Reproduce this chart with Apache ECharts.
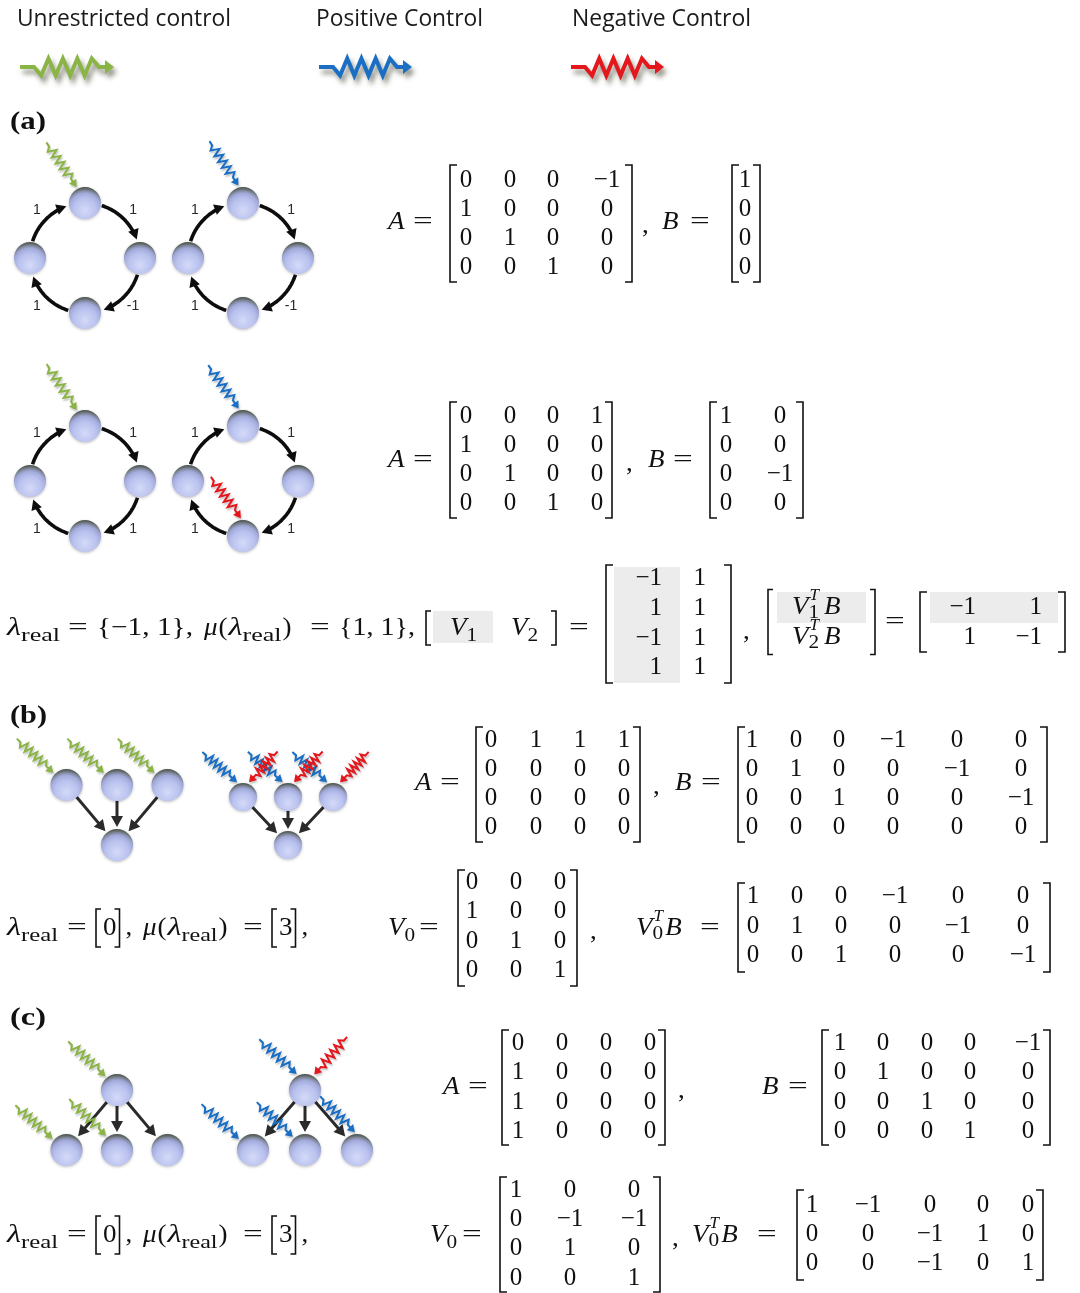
<!DOCTYPE html>
<html>
<head>
<meta charset="utf-8">
<script src="https://cdn.jsdelivr.net/npm/echarts@6/dist/echarts.min.js"></script>
<style>
  html, body { margin: 0; padding: 0; background: #fff; }
  #chart { width: 1080px; height: 1293px; }
</style>
</head>
<body>
<div id="chart"></div>
<script>
// ---------------- data ----------------
const legendLabels = ['Unrestricted control', 'Positive Control', 'Negative Control'];
const inputKinds = ['u', 'p', 'n'];
const inputColors = { u: '#8ab446', p: '#1a6fc4', n: '#e3171c' };

// (a) cycle networks: edge weights clockwise, starting with top -> right
const ringWeightsA1 = [1, -1, 1, 1];
const ringWeightsA2 = [1, 1, 1, 1];
// inputs: [node, attach angle, heading, length, kind]
const inputsA1u = [[0, -118, 56, 54, 'u']];
const inputsA1p = [[0, -105, 57, 53, 'p']];
const inputsA2u = [[0, -118, 57, 55, 'u']];
const inputsA2p = [[0, -104, 55, 53, 'p'], [2, -97, 54, 51, 'n']];
// (b) fan-in and (c) fan-out networks
const fanInLayout = [[-1, 0], [0, 0], [1, 0], [0, 1]];
const fanInEdges = [[0, 3], [1, 3], [2, 3]];
const fanOutLayout = [[0, 0], [-1, 1], [0, 1], [1, 1]];
const fanOutEdges = [[0, 1], [0, 2], [0, 3]];
const inputsBu = [[0, -137, 43, 50, 'u'], [1, -137, 43, 50, 'u'], [2, -137, 43, 50, 'u']];
const inputsBp = [[0, -112, 41, 46, 'p'], [1, -110, 41, 46, 'p'], [2, -112, 41, 46, 'p'],
                  [0, -68, 133, 42, 'n'], [1, -68, 133, 42, 'n'], [2, -64, 133, 42, 'n']];
const inputsCu = [[0, -130, 43, 51, 'u'], [1, -141, 42, 50, 'u'], [2, -128, 45, 52, 'u']];
const inputsCp = [[0, -118, 43, 51, 'p'], [0, -59, 131, 50, 'n'], [1, -142, 43, 51, 'p'],
                  [2, -133, 44, 50, 'p'], [3, -97, 46, 50, 'p']];

// matrices
const A_a1 = [[0, 0, 0, -1], [1, 0, 0, 0], [0, 1, 0, 0], [0, 0, 1, 0]];
const B_a1 = [[1], [0], [0], [0]];
const A_a2 = [[0, 0, 0, 1], [1, 0, 0, 0], [0, 1, 0, 0], [0, 0, 1, 0]];
const B_a2 = [[1, 0], [0, 0], [0, -1], [0, 0]];
const V_a = [[-1, 1], [1, 1], [-1, 1], [1, 1]];
const VB_a = [[-1, 1], [1, -1]];
const A_b = [[0, 1, 1, 1], [0, 0, 0, 0], [0, 0, 0, 0], [0, 0, 0, 0]];
const B_b = [[1, 0, 0, -1, 0, 0], [0, 1, 0, 0, -1, 0], [0, 0, 1, 0, 0, -1], [0, 0, 0, 0, 0, 0]];
const V0_b = [[0, 0, 0], [1, 0, 0], [0, 1, 0], [0, 0, 1]];
const V0B_b = [[1, 0, 0, -1, 0, 0], [0, 1, 0, 0, -1, 0], [0, 0, 1, 0, 0, -1]];
const A_c = [[0, 0, 0, 0], [1, 0, 0, 0], [1, 0, 0, 0], [1, 0, 0, 0]];
const B_c = [[1, 0, 0, 0, -1], [0, 1, 0, 0, 0], [0, 0, 1, 0, 0], [0, 0, 0, 1, 0]];
const V0_c = [[1, 0, 0], [0, -1, -1], [0, 1, 0], [0, 0, 1]];
const V0B_c = [[1, -1, 0, 0, 0], [0, 0, -1, 1, 0], [0, 0, -1, 0, 1]];

// eigenvalues and multiplicities
const lambdaA = [-1, 1], muA = [1, 1];
const lambdaB = [0], muB = [3];
const lambdaC = [0], muC = [3];

// ---------------- layout ----------------
const W = 1080, H = 1293, DEG = Math.PI / 180;
const SERIF = '"Liberation Serif", "DejaVu Serif", serif';
const graphs = [
  { type: 'ring', c: [85, 258], R: 55, r: 16, weights: ringWeightsA1, inputs: inputsA1u },
  { type: 'ring', c: [243, 258], R: 55, r: 16, weights: ringWeightsA1, inputs: inputsA1p },
  { type: 'ring', c: [85, 481], R: 55, r: 16, weights: ringWeightsA2, inputs: inputsA2u },
  { type: 'ring', c: [243, 481], R: 55, r: 16, weights: ringWeightsA2, inputs: inputsA2p },
  { type: 'fan', c: [117, 785], dx: 50.5, dy: 60, r: 16, layout: fanInLayout, edges: fanInEdges, inputs: inputsBu },
  { type: 'fan', c: [288, 797], dx: 45, dy: 48, r: 14, layout: fanInLayout, edges: fanInEdges, inputs: inputsBp },
  { type: 'fan', c: [117, 1090], dx: 50.5, dy: 60, r: 16, layout: fanOutLayout, edges: fanOutEdges, inputs: inputsCu },
  { type: 'fan', c: [305, 1090], dx: 52, dy: 60, r: 16, layout: fanOutLayout, edges: fanOutEdges, inputs: inputsCp }
];
const ringNodeAngles = [-90, 0, 90, 180];

const matrices = [
  { m: A_a1, l: 450, r: 632, t: 165, b: 282, cols: [466, 510, 553, 607], rows: [180, 209, 238, 267] },
  { m: B_a1, l: 732, r: 760, t: 165, b: 282, cols: [745], rows: [180, 209, 238, 267] },
  { m: A_a2, l: 450, r: 612, t: 402, b: 518, cols: [466, 510, 553, 597], rows: [416, 445, 474, 503] },
  { m: B_a2, l: 710, r: 803, t: 402, b: 518, cols: [726, 780], rows: [416, 445, 474, 503] },
  { m: V_a, l: 606, r: 731, t: 565, b: 683, cols: [662, 706], rows: [578, 608, 638, 667], align: 'right',
    shade: [[614, 567, 680, 683]] },
  { m: VB_a, l: 920, r: 1065, t: 592, b: 652, cols: [976, 1042], rows: [607, 637], align: 'right',
    shade: [[930, 592, 1058, 623]] },
  { m: A_b, l: 476, r: 640, t: 727, b: 842, cols: [491, 536, 580, 624], rows: [740, 769, 798, 827] },
  { m: B_b, l: 738, r: 1047, t: 727, b: 842, cols: [752, 796, 839, 893, 957, 1021], rows: [740, 769, 798, 827] },
  { m: V0_b, l: 458, r: 577, t: 870, b: 986, cols: [472, 516, 560], rows: [882, 911, 941, 970] },
  { m: V0B_b, l: 738, r: 1050, t: 883, b: 972, cols: [753, 797, 841, 895, 958, 1023], rows: [896, 926, 955] },
  { m: A_c, l: 502, r: 665, t: 1030, b: 1145, cols: [518, 562, 606, 650], rows: [1043, 1072, 1102, 1131] },
  { m: B_c, l: 822, r: 1050, t: 1030, b: 1145, cols: [840, 883, 927, 970, 1028], rows: [1043, 1072, 1102, 1131] },
  { m: V0_c, l: 500, r: 660, t: 1177, b: 1292, cols: [516, 570, 634], rows: [1190, 1219, 1248, 1278] },
  { m: V0B_c, l: 797, r: 1043, t: 1190, b: 1280, cols: [812, 868, 930, 983, 1028], rows: [1205, 1234, 1263] }
];

const fmt = v => (v < 0 ? '\u2212' + (-v) : String(v));
const setText = arr => '{' + arr.map(fmt).join(', ') + '}';

const STY = {
  rm:   { font: '25px ' + SERIF, sx: 1.08 },
  it:   { font: 'italic 25px ' + SERIF, sx: 1.08 },
  eq:   { font: '25px ' + SERIF, sx: 1.4 },
  sub:  { font: '19px ' + SERIF, dy: 8, sx: 1.12 },
  sup:  { font: 'italic 17px ' + SERIF, dy: -11 },
  lbl:  { font: 'bold 26px ' + SERIF },
  leg:  { font: '23px "Open Sans", "Noto Sans", sans-serif', fill: '#1a1a1a' },
  edge: { font: '14px "Liberation Sans", sans-serif', fill: '#2a2a2a' }
};

// lambda_real = [..], mu(lambda_real) = [..], tokens shared by (b) and (c)
function eigenPrefix(lam, mu) {
  return [
    { t: '\u03bb', s: 'it', x: 7, w: 14 }, { t: 'real', s: 'sub', x: 21, w: 37 }, { t: '=', s: 'eq', x: 67 },
    { br: 'l', x: 96, h: 38 }, { t: lam.map(fmt).join(', '), s: 'rm', dx: 1 }, { br: 'r', h: 38 },
    { t: ',', s: 'rm', dx: 4 },
    { t: '\u03bc', s: 'it', x: 143 }, { t: '(', s: 'rm', dx: 1 }, { t: '\u03bb', s: 'it', dx: 1, w: 14 },
    { t: 'real', s: 'sub', w: 36 }, { t: ')', s: 'rm', dx: 1 }, { t: '=', s: 'eq', x: 243 },
    { br: 'l', x: 272, h: 38 }, { t: mu.map(fmt).join(', '), s: 'rm', dx: 1 }, { br: 'r', h: 38 },
    { t: ',', s: 'rm', dx: 4 }
  ];
}

const equations = [
  { y: 19, toks: [
    { t: legendLabels[0], s: 'leg', x: 17, w: 214 },
    { t: legendLabels[1], s: 'leg', x: 316, w: 167 },
    { t: legendLabels[2], s: 'leg', x: 572, w: 179 }] },
  { y: 122, toks: [{ t: '(a)', s: 'lbl', x: 10, w: 36 }] },
  { y: 716, toks: [{ t: '(b)', s: 'lbl', x: 10, w: 37 }] },
  { y: 1018, toks: [{ t: '(c)', s: 'lbl', x: 10, w: 36 }] },
  { y: 222, toks: [{ t: 'A', s: 'it', x: 388 }, { t: '=', s: 'eq', x: 413 },
    { t: ',', s: 'rm', x: 642, y: 226 }, { t: 'B', s: 'it', x: 662 }, { t: '=', s: 'eq', x: 690 }] },
  { y: 460, toks: [{ t: 'A', s: 'it', x: 388 }, { t: '=', s: 'eq', x: 413 },
    { t: ',', s: 'rm', x: 626, y: 464 }, { t: 'B', s: 'it', x: 648 }, { t: '=', s: 'eq', x: 673 }] },
  { y: 628, toks: [
    { t: '\u03bb', s: 'it', x: 7, w: 14 }, { t: 'real', s: 'sub', x: 21, w: 39 }, { t: '=', s: 'eq', x: 68 },
    { t: setText(lambdaA) + ',', s: 'rm', x: 97, w: 96 },
    { t: '\u03bc', s: 'it', x: 204 }, { t: '(', s: 'rm', dx: 1 }, { t: '\u03bb', s: 'it', dx: 1, w: 14 },
    { t: 'real', s: 'sub', w: 39 }, { t: ')', s: 'rm', dx: 1 },
    { t: '=', s: 'eq', x: 310 }, { t: setText(muA) + ',', s: 'rm', x: 339, w: 76 },
    { rect: [433, 611, 493, 643] },
    { br: 'l', x: 426, h: 34 }, { t: 'V', s: 'it', x: 450 }, { t: '1', s: 'sub' },
    { t: 'V', s: 'it', x: 511 }, { t: '2', s: 'sub' }, { br: 'r', x: 556, h: 34 },
    { t: '=', s: 'eq', x: 569 },
    { t: ',', s: 'rm', x: 743, y: 632 },
    { rect: [777, 592, 866, 623] },
    { br: 'l', x: 768, h: 65, y: 622 },
    { t: 'V', s: 'it', x: 792, y: 607 }, { t: 'T', s: 'sup', y: 607, dx: 1, keep: true },
    { t: '1', s: 'sub', y: 605 }, { t: 'B', s: 'it', x: 824, y: 607 },
    { t: 'V', s: 'it', x: 792, y: 637 }, { t: 'T', s: 'sup', y: 637, dx: 1, keep: true },
    { t: '2', s: 'sub', y: 635 }, { t: 'B', s: 'it', x: 824, y: 637 },
    { br: 'r', x: 875, h: 65, y: 622 },
    { t: '=', s: 'eq', x: 885, y: 622 }] },
  { y: 783, toks: [{ t: 'A', s: 'it', x: 415 }, { t: '=', s: 'eq', x: 440 },
    { t: ',', s: 'rm', x: 653, y: 787 }, { t: 'B', s: 'it', x: 675 }, { t: '=', s: 'eq', x: 701 }] },
  { y: 928, toks: eigenPrefix(lambdaB, muB).concat([
    { t: 'V', s: 'it', x: 388 }, { t: '0', s: 'sub' }, { t: '=', s: 'eq', x: 419 },
    { t: ',', s: 'rm', x: 590, y: 932 },
    { t: 'V', s: 'it', x: 636 }, { t: 'T', s: 'sup', dx: 1, keep: true }, { t: '0', s: 'sub', dy: -2 },
    { t: 'B', s: 'it', dx: 2 }, { t: '=', s: 'eq', x: 700 }]) },
  { y: 1087, toks: [{ t: 'A', s: 'it', x: 443 }, { t: '=', s: 'eq', x: 468 },
    { t: ',', s: 'rm', x: 678, y: 1091 }, { t: 'B', s: 'it', x: 762 }, { t: '=', s: 'eq', x: 788 }] },
  { y: 1235, toks: eigenPrefix(lambdaC, muC).concat([
    { t: 'V', s: 'it', x: 430 }, { t: '0', s: 'sub' }, { t: '=', s: 'eq', x: 462 },
    { t: ',', s: 'rm', x: 672, y: 1239 },
    { t: 'V', s: 'it', x: 692 }, { t: 'T', s: 'sup', dx: 1, keep: true }, { t: '0', s: 'sub', dy: -2 },
    { t: 'B', s: 'it', dx: 2 }, { t: '=', s: 'eq', x: 757 }]) }
];

// ---------------- helpers ----------------
const measureCtx = document.createElement('canvas').getContext('2d');
function textWidth(str, font) { measureCtx.font = font; return measureCtx.measureText(str).width; }

const graphNodes = [], graphArcs = [], graphLines = [], graphInputs = [], edgeLabels = [];
graphs.forEach(g => {
  let pos;
  if (g.type === 'ring') {
    pos = ringNodeAngles.map(a => [g.c[0] + g.R * Math.cos(a * DEG), g.c[1] + g.R * Math.sin(a * DEG)]);
    g.weights.forEach((w, k) => {
      const a0 = ringNodeAngles[k], a1 = a0 + 90;
      graphArcs.push({ c: g.c, R: g.R, a0: a0 + (g.r + 1) / g.R / DEG, a1: a1 - (g.r + 3) / g.R / DEG });
      const am = (a0 + a1) / 2 * DEG;
      edgeLabels.push({ x: g.c[0] + (g.R + 13) * Math.cos(am), y: g.c[1] + (g.R + 13) * Math.sin(am),
                        t: w < 0 ? '-' + (-w) : String(w) });
    });
  } else {
    pos = g.layout.map(([i, j]) => [g.c[0] + i * g.dx, g.c[1] + j * g.dy]);
    g.edges.forEach(([a, b]) => graphLines.push({ p0: pos[a], p1: pos[b], r: g.r }));
  }
  pos.forEach(p => graphNodes.push({ x: p[0], y: p[1], r: g.r }));
  g.inputs.forEach(([ni, tipA, heading, len, kind]) => {
    const n = pos[ni];
    const tip = [n[0] + (g.r + 2) * Math.cos(tipA * DEG), n[1] + (g.r + 2) * Math.sin(tipA * DEG)];
    const tail = [tip[0] - len * Math.cos(heading * DEG), tip[1] - len * Math.sin(heading * DEG)];
    graphInputs.push({ tail, tip, kind, amp: 4.2, waves: 5, lead: 5, head: 7, hw: 4.5, lw: 2 });
  });
});
// legend swatches
const legendSwatchX = [[20, 114], [319, 412], [571, 664]];
inputKinds.forEach((k, i) => {
  graphInputs.push({ tail: [legendSwatchX[i][0], 67], tip: [legendSwatchX[i][1], 67], kind: k,
                     amp: 8.5, waves: 4, lead: 14, head: 9, hw: 7, lw: 4, legend: true });
});

function wavy(o) {
  const dx = o.tip[0] - o.tail[0], dy = o.tip[1] - o.tail[1], L = Math.hypot(dx, dy);
  const ux = dx / L, uy = dy / L, nx = -uy, ny = ux;
  const at = (s, off) => [o.tail[0] + ux * s + nx * off, o.tail[1] + uy * s + ny * off];
  const zEnd = L - o.head - (o.legend ? 6 : 3);
  const n = o.waves * 2, step = (zEnd - o.lead) / (n + 1);
  const pts = [at(0, 0), at(o.lead, 0)];
  for (let i = 1; i <= n; i++) pts.push(at(o.lead + step * i, (i % 2 ? 1 : -1) * o.amp));
  pts.push(at(zEnd, 0), at(L - o.head + 1, 0));
  const head = [at(L, 0), at(L - o.head, o.hw), at(L - o.head, -o.hw)];
  return { pts, head };
}

function arrowParts(p0, p1, r0, r1, head, hw) {
  const dx = p1[0] - p0[0], dy = p1[1] - p0[1], L = Math.hypot(dx, dy);
  const ux = dx / L, uy = dy / L;
  const s = [p0[0] + ux * r0, p0[1] + uy * r0];
  const tip = [p1[0] - ux * r1, p1[1] - uy * r1];
  const base = [tip[0] - ux * head, tip[1] - uy * head];
  return { line: [s, [base[0] + ux * 2, base[1] + uy * 2]],
           head: [tip, [base[0] - uy * hw, base[1] + ux * hw], [base[0] + uy * hw, base[1] - ux * hw]] };
}

const idx = arr => arr.map((_, i) => [0, 0, i]);
const C = (api, p) => api.coord(p);

function customSeries(name, items, render, z) {
  return { type: 'custom', name, coordinateSystem: 'cartesian2d', clip: false, silent: true, z: z || 2,
           data: idx(items), renderItem: (params, api) => render(items[params.dataIndex], api) };
}

// ---------------- renderers ----------------
function renderArc(a, api) {
  const hl = 10, hw = 5.5;
  const lineEnd = a.a1 - hl * 0.8 / a.R / DEG;
  const pts = [];
  const steps = 30;
  for (let i = 0; i <= steps; i++) {
    const t = (a.a0 + (lineEnd - a.a0) * i / steps) * DEG;
    pts.push([a.c[0] + a.R * Math.cos(t), a.c[1] + a.R * Math.sin(t)]);
  }
  // arrowhead along the clockwise tangent
  const tEnd = a.a1 * DEG;
  const tip = [a.c[0] + a.R * Math.cos(tEnd), a.c[1] + a.R * Math.sin(tEnd)];
  const tx = -Math.sin(tEnd), ty = Math.cos(tEnd);
  const base = [tip[0] - tx * hl, tip[1] - ty * hl];
  return { type: 'group', children: [
    { type: 'polyline', shape: { points: pts.map(p => C(api, p)) },
      style: { stroke: '#0d0d0d', lineWidth: 3.6, fill: null, lineCap: 'butt' } },
    { type: 'polygon', shape: { points: [tip, [base[0] - ty * hw, base[1] + tx * hw], [base[0] + ty * hw, base[1] - tx * hw]].map(p => C(api, p)) },
      style: { fill: '#0d0d0d' } }
  ] };
}

function renderLine(e, api) {
  const a = arrowParts(e.p0, e.p1, e.r - 1, e.r + 2, 11, 6);
  return { type: 'group', children: [
    { type: 'polyline', shape: { points: a.line.map(p => C(api, p)) },
      style: { stroke: '#2a2a2a', lineWidth: 3, fill: null } },
    { type: 'polygon', shape: { points: a.head.map(p => C(api, p)) }, style: { fill: '#2a2a2a' } }
  ] };
}

function renderNode(n, api) {
  const p = C(api, [n.x, n.y]);
  const r = api.size([n.r, 0])[0];
  return { type: 'circle', shape: { cx: p[0], cy: p[1], r },
    style: { fill: new echarts.graphic.RadialGradient(0.5, 0.72, 0.72, [
      { offset: 0, color: '#d4daf8' }, { offset: 0.5, color: '#b9c1ee' },
      { offset: 0.72, color: '#a3abdb' }, { offset: 0.83, color: '#868da7' },
      { offset: 0.93, color: '#5e6764' }, { offset: 1, color: '#4a5350' }]),
      shadowBlur: 3, shadowColor: 'rgba(0,0,0,0.25)', shadowOffsetY: 1 } };
}

function renderInput(w, api) {
  const g = wavy(w);
  const col = inputColors[w.kind];
  const sh = w.legend ? { shadowBlur: 5, shadowOffsetX: 3, shadowOffsetY: 5, shadowColor: 'rgba(60,60,40,0.55)' }
                      : { shadowBlur: 2, shadowOffsetX: 1, shadowOffsetY: 2, shadowColor: 'rgba(0,0,0,0.22)' };
  return { type: 'group', children: [
    { type: 'polyline', shape: { points: g.pts.map(p => C(api, p)) },
      style: Object.assign({ stroke: col, lineWidth: w.lw, fill: null, lineJoin: 'miter' }, sh) },
    { type: 'polygon', shape: { points: g.head.map(p => C(api, p)) }, style: Object.assign({ fill: col }, sh) }
  ] };
}

function renderEdgeLabel(l, api) {
  const p = C(api, [l.x, l.y]);
  return { type: 'text', x: p[0], y: p[1],
           style: { text: l.t, font: STY.edge.font, fill: STY.edge.fill, align: 'center', verticalAlign: 'middle' } };
}

function bracketShape(api, x, yTop, yBot, side, serif) {
  const d = side === 'l' ? serif : -serif;
  return { type: 'polyline', shape: { points: [[x + d, yTop], [x, yTop], [x, yBot], [x + d, yBot]].map(p => C(api, p)) },
           style: { stroke: '#111', lineWidth: 1.6, fill: null, lineJoin: 'miter', lineCap: 'butt' } };
}

function renderMatrix(mx, api) {
  const children = [];
  (mx.shade || []).forEach(s => {
    const a = C(api, [s[0], s[1]]), b = C(api, [s[2], s[3]]);
    children.push({ type: 'rect', shape: { x: a[0], y: a[1], width: b[0] - a[0], height: b[1] - a[1] },
                    style: { fill: '#ececec' } });
  });
  children.push(bracketShape(api, mx.l, mx.t, mx.b, 'l', 7));
  children.push(bracketShape(api, mx.r, mx.t, mx.b, 'r', 7));
  mx.m.forEach((row, i) => row.forEach((v, j) => {
    const p = C(api, [mx.cols[j], mx.rows[i]]);
    children.push({ type: 'text', x: p[0], y: p[1],
      style: { text: fmt(v), font: STY.rm.font, fill: '#111', align: mx.align || 'center', verticalAlign: 'middle' } });
  }));
  return { type: 'group', children };
}

function renderEquation(eq, api) {
  const children = [];
  let cx = 0;
  eq.toks.forEach(tk => {
    if (tk.rect) {
      const a = C(api, [tk.rect[0], tk.rect[1]]), b = C(api, [tk.rect[2], tk.rect[3]]);
      children.unshift({ type: 'rect', shape: { x: a[0], y: a[1], width: b[0] - a[0], height: b[1] - a[1] },
                         style: { fill: '#ececec' } });
      return;
    }
    if (tk.br) {
      const yc = tk.y != null ? tk.y : eq.y;
      const X = tk.x != null ? tk.x : cx + (tk.br === 'l' ? 1 : 3);
      children.push(bracketShape(api, X, yc - tk.h / 2, yc + tk.h / 2, tk.br, 5));
      cx = X + (tk.br === 'l' ? 6 : 2);
      return;
    }
    const st = STY[tk.s];
    const x = tk.x != null ? tk.x : cx + (tk.dx || 0);
    const y = (tk.y != null ? tk.y : eq.y) + (st.dy || 0) + (tk.dy || 0);
    const w = textWidth(tk.t, st.font);
    const sx = tk.w ? tk.w / w : (st.sx || 1);
    const p = C(api, [x, y]);
    children.push({ type: 'text', x: p[0], y: p[1], scaleX: sx,
      style: { text: tk.t, font: st.font, fill: st.fill || '#111', align: 'left', verticalAlign: 'middle' } });
    if (!tk.keep) cx = x + w * sx;
  });
  return { type: 'group', children };
}

// ---------------- chart ----------------
const chart = echarts.init(document.getElementById('chart'), null, { renderer: 'canvas' });
chart.setOption({
  animation: false,
  backgroundColor: '#ffffff',
  grid: { left: 0, right: 0, top: 0, bottom: 0 },
  xAxis: { type: 'value', min: 0, max: W, show: false },
  yAxis: { type: 'value', min: 0, max: H, inverse: true, show: false },
  series: [
    customSeries('arcs', graphArcs, renderArc, 2),
    customSeries('edges', graphLines, renderLine, 2),
    customSeries('nodes', graphNodes, renderNode, 3),
    customSeries('inputs', graphInputs, renderInput, 4),
    customSeries('edgeLabels', edgeLabels, renderEdgeLabel, 4),
    customSeries('matrices', matrices, renderMatrix, 2),
    customSeries('equations', equations, renderEquation, 2)
  ]
});
</script>
</body>
</html>
